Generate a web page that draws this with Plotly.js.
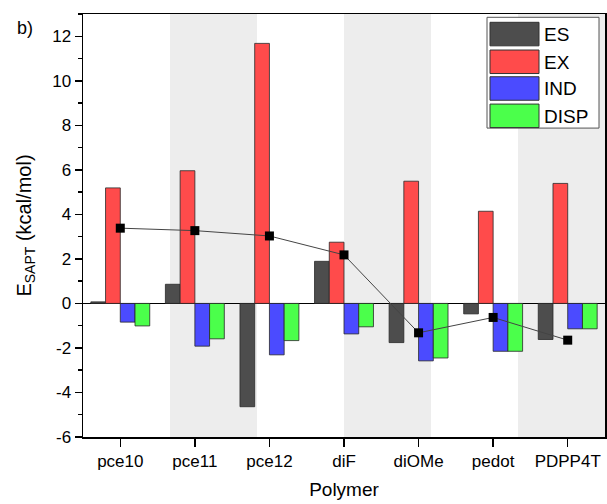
<!DOCTYPE html>
<html>
<head>
<meta charset="utf-8">
<script src="https://cdn.plot.ly/plotly-3.0.1.min.js"></script>
<style>
  html, body { margin: 0; padding: 0; background: #ffffff; }
  #chart { width: 607px; height: 504px; }
</style>
</head>
<body>
<div id="chart"></div>
<script>
// ---- Data ----
const categories = ['pce10', 'pce11', 'pce12', 'diF', 'diOMe', 'pedot', 'PDPP4T'];
const seriesNames = ['ES', 'EX', 'IND', 'DISP'];
const esValues   = [0.07, 0.86, -4.64, 1.89, -1.76, -0.47, -1.62];
const exValues   = [5.19, 5.96, 11.68, 2.75, 5.49, 4.14, 5.39];
const indValues  = [-0.84, -1.92, -2.31, -1.37, -2.58, -2.15, -1.14];
const dispValues = [-1.01, -1.59, -1.67, -1.05, -2.45, -2.15, -1.14];
const totalValues = [3.38, 3.27, 3.03, 2.18, -1.32, -0.63, -1.65];
const yTickValues = [-6, -4, -2, 0, 2, 4, 6, 8, 10, 12];
const yTickLabels = ['-6', '-4', '-2', '0', '2', '4', '6', '8', '10', '12'];

// ---- Styles ----
const colors = ['#4d4d4d', '#ff4b4b', '#4b4bff', '#4bff4b'];
const FONT = 'Liberation Sans, Arial, Helvetica, sans-serif';
const seriesValues = [esValues, exValues, indValues, dispValues];

const traces = seriesNames.map((name, i) => ({
  type: 'bar',
  name: name,
  x: categories,
  y: seriesValues[i],
  marker: { color: colors[i], line: { color: 'rgba(40,40,40,0.8)', width: 1 } },
  showlegend: false,
  hoverinfo: 'skip'
}));

traces.push({
  type: 'scatter',
  mode: 'lines+markers',
  name: 'Total',
  x: categories,
  y: totalValues,
  line: { color: '#444444', width: 1 },
  marker: { symbol: 'square', size: 9, color: '#000000' },
  showlegend: false,
  hoverinfo: 'skip'
});

// Background bands (paper coords) and a custom legend
const shapes = [];
[[1/6, 2/6], [3/6, 4/6], [5/6, 1]].forEach(b => {
  shapes.push({ type: 'rect', xref: 'paper', yref: 'paper', x0: b[0], x1: b[1], y0: 0, y1: 1,
    fillcolor: '#ededed', line: { width: 0 }, layer: 'below' });
});

// plot area in px: left 83, right 605, top 14, bottom 436.7
const PL = 83, PW = 522, PT = 14, PH = 422.7;
const px = x => (x - PL) / PW;
const py = y => (PT + PH - y) / PH;

shapes.push({ type: 'rect', xref: 'paper', yref: 'paper', x0: px(487), x1: px(599), y0: py(128), y1: py(17.3),
  fillcolor: '#ffffff', line: { color: '#555555', width: 1 }, layer: 'above' });

const annotations = [];
const rowTops = [22.3, 50, 76.7, 104];
seriesNames.forEach((name, i) => {
  const t = rowTops[i];
  shapes.push({ type: 'rect', xref: 'paper', yref: 'paper', x0: px(490), x1: px(539), y0: py(t + 23.5), y1: py(t),
    fillcolor: colors[i], line: { color: '#333333', width: 1 }, layer: 'above' });
  annotations.push({ xref: 'paper', yref: 'paper', x: px(542), y: py(t + 12), xanchor: 'left', yanchor: 'middle',
    text: name, showarrow: false, font: { family: FONT, size: 19, color: '#000' } });
});

annotations.push({ xref: 'paper', yref: 'paper', x: px(15), y: py(16), xanchor: 'left', yanchor: 'top',
  text: 'b)', showarrow: false, font: { family: FONT, size: 18, color: '#000' } });

const layout = {
  width: 607, height: 504,
  margin: { l: 83, r: 2, t: 14, b: 67.3, pad: 0 },
  paper_bgcolor: '#ffffff', plot_bgcolor: '#ffffff',
  font: { family: FONT, color: '#000', size: 16 },
  barmode: 'group', bargap: 0.21, bargroupgap: 0,
  showlegend: false,
  xaxis: {
    type: 'category', range: [-0.5, 6.5],
    showgrid: false, zeroline: false,
    showline: true, linecolor: '#000', linewidth: 1.5, mirror: true,
    ticks: 'outside', ticklen: 8, tickwidth: 1.5, tickcolor: '#000',
    tickfont: { family: FONT, size: 17, color: '#000' },
    title: { text: 'Polymer', font: { family: FONT, size: 19, color: '#000' }, standoff: 13 }
  },
  yaxis: {
    range: [-6, 13], tickmode: 'array', tickvals: yTickValues, ticktext: yTickLabels,
    showgrid: false,
    zeroline: true, zerolinecolor: '#000', zerolinewidth: 1.2,
    showline: true, linecolor: '#000', linewidth: 1.5, mirror: true,
    ticks: 'outside', ticklen: 7, tickwidth: 1.5, tickcolor: '#000',
    minor: { dtick: 1, tick0: 0, ticks: 'outside', ticklen: 4, tickwidth: 1.5, tickcolor: '#000', showgrid: false },
    tickfont: { family: FONT, size: 17, color: '#000' },
    title: { text: 'E<sub>SAPT</sub> (kcal/mol)', font: { family: FONT, size: 20, color: '#000' }, standoff: 15 }
  },
  shapes: shapes,
  annotations: annotations
};

Plotly.newPlot('chart', traces, layout, { staticPlot: true, displayModeBar: false });
</script>
</body>
</html>
